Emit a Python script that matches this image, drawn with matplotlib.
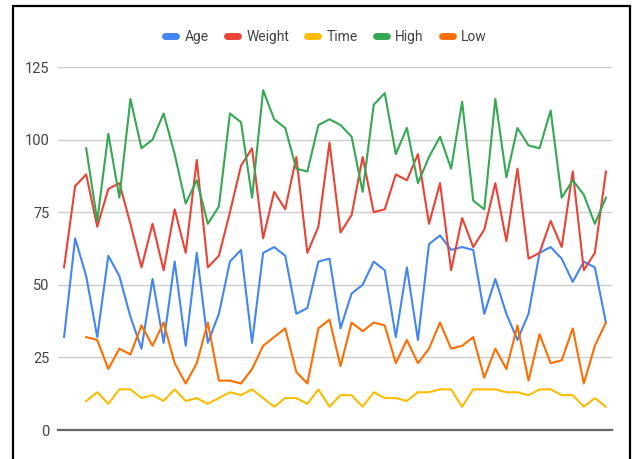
import numpy as np
import matplotlib.pyplot as plt
from matplotlib.lines import Line2D
from matplotlib.patches import Rectangle

plt.rcParams['font.family'] = ['Liberation Sans Narrow', 'Roboto', 'DejaVu Sans']

# Series values (None = no reading for that row)
age = [32, 66, 53, 32, 60, 53, 39, 28, 52, 30, 58, 29, 61,
       30, 40, 58, 62, 30, 61, 63, 60, 40, 42, 58, 59,
       35, 47, 50, 58, 55, 32, 56, 31, 64, 67, 62, 63,
       62, 40, 52, 40, 31, 40, 61, 63, 59, 51, 58, 56, 37]
weight = [56, 84, 88, 70, 83, 85, 71, 56, 71, 55, 76, 61, 93,
          56, 60, 75, 91, 97, 66, 82, 76, 94, 61, 70, 99,
          68, 74, 94, 75, 76, 88, 86, 95, 71, 85, 55, 73,
          63, 69, 85, 65, 90, 59, 61, 72, 63, 89, 55, 61, 89]
time = [None, None, 10, 13, 9, 14, 14, 11, 12, 10, 14, 10, 11,
        9, 11, 13, 12, 14, 11, 8, 11, 11, 9, 14, 8,
        12, 12, 8, 13, 11, 11, 10, 13, 13, 14, 14, 8,
        14, 14, 14, 13, 13, 12, 14, 14, 12, 12, 8, 11, 8]
high = [None, None, 97, 72, 102, 80, 114, 97, 100, 109, 95, 78, 86,
        71, 77, 109, 106, 80, 117, 107, 104, 90, 89, 105, 107,
        105, 101, 82, 112, 116, 95, 104, 85, 94, 101, 90, 113,
        79, 76, 114, 87, 104, 98, 97, 110, 80, 86, 81, 71, 80]
low = [None, None, 32, 31, 21, 28, 26, 36, 29, 37, 23, 16, 23,
       37, 17, 17, 16, 21, 29, 32, 35, 20, 16, 35, 38,
       22, 37, 34, 37, 36, 23, 31, 23, 28, 37, 28, 29,
       32, 18, 28, 21, 36, 17, 33, 23, 24, 35, 16, 29, 37]

names = ["Age", "Weight", "Time", "High", "Low"]
series = [age, weight, time, high, low]
colors = ["#4285F4", "#EA4335", "#FBBC04", "#34A853", "#FF6D01"]
yticks = [0, 25, 50, 75, 100, 125]

W, H = 634, 459
fig = plt.figure(figsize=(W / 100, H / 100), dpi=100)
ax = fig.add_axes([58 / W, 1 - 430 / H, (612 - 58) / W, (430 - 67) / H])

x = np.arange(len(age))
for name, vals, c in zip(names, series, colors):
    y = np.array([np.nan if v is None else v for v in vals], dtype=float)
    ax.plot(x, y, color=c, lw=1.5, label=name, clip_on=False)

ax.set_xlim(-0.55, len(age) - 1 + 0.55)
ax.set_ylim(0, 125)
ax.set_yticks(yticks)
ax.set_xticks([])
ax.grid(axis='y', color='#cccccc', lw=1)
ax.set_axisbelow(True)
for s in ['top', 'right', 'left']:
    ax.spines[s].set_visible(False)
ax.spines['bottom'].set_color('#666666')
ax.spines['bottom'].set_linewidth(1.6)
ax.tick_params(axis='y', length=0, pad=6, labelsize=10.5, labelcolor='#444444')

# legend across the top
handles = [Line2D([], [], color=c, lw=5, solid_capstyle='round') for c in colors]
fig.legend(handles, names, loc='center', bbox_to_anchor=(326 / W, 1 - 37 / H),
           ncol=5, frameon=False, handlelength=0.8, handletextpad=0.6,
           columnspacing=1.3, fontsize=10, labelcolor='#444444')

# dark frame around the chart
fig.add_artist(Rectangle((13 / W, -0.05), (630 - 13) / W, 1.05 - 6 / H,
                         transform=fig.transFigure, fill=False,
                         edgecolor='black', lw=1.6))

fig.savefig("out.png", dpi=100)
